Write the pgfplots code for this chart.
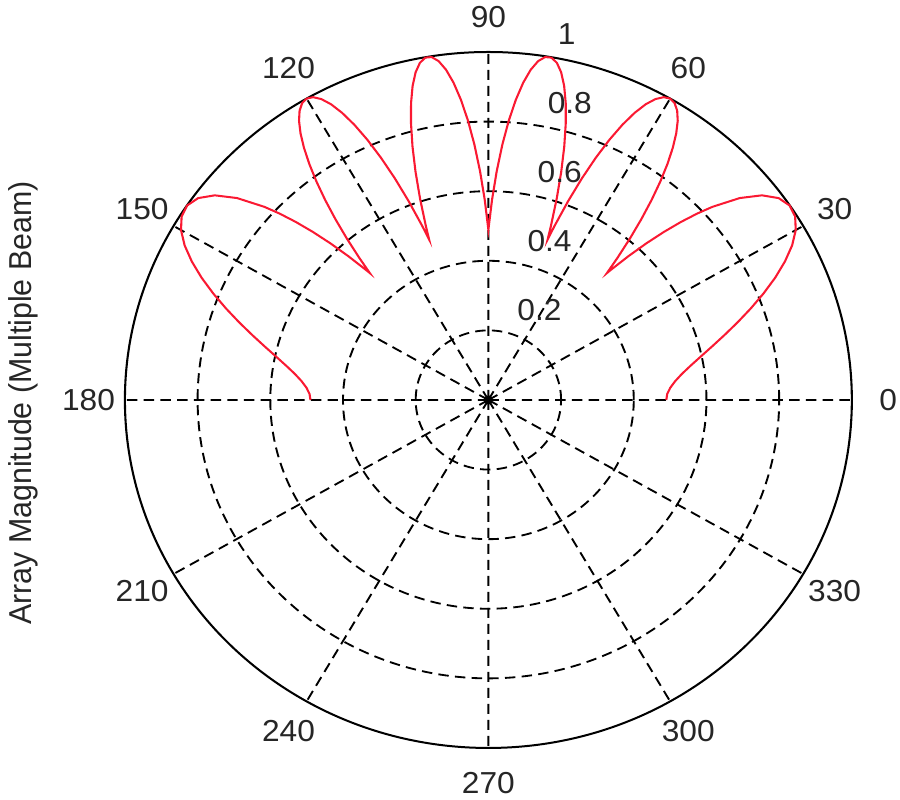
\documentclass[border=0pt]{standalone}
\usepackage{fontspec}
\setmainfont{Liberation Sans}
\usepackage{graphicx}
\usepackage{pgfplots}
\pgfplotsset{compat=1.18}
\usepgfplotslibrary{polar}
\definecolor{beamred}{RGB}{250,25,50}

\begin{document}
\resizebox{270pt}{240pt}{%
\begin{tikzpicture}[lab/.style={font=\fontsize{9.1}{11}\selectfont, text=black!85}]
\begin{polaraxis}[
    scale only axis,
    width=208.8pt, height=208.8pt,
    xmin=0, xmax=360, ymin=0, ymax=1,
    xtick={0,30,...,330},
    ytick={0.2,0.4,0.6,0.8},
    xticklabels={}, yticklabels={},
    major tick length=0pt,
    grid=major,
    major grid style={black, line width=0.55pt, dash pattern=on 3pt off 1.8pt},
    x axis line style={black, line width=0.6pt},
    y axis line style={draw=none},
    clip=false,
]

% multiple beam pattern, (angle in degrees, magnitude)
\addplot[color=beamred, line width=0.6pt, no marks] coordinates {
    (0,0.4895) (2,0.4923) (4,0.5016) (6,0.5167) (8,0.5376) (10,0.5644)
    (12,0.5965) (14,0.6337) (16,0.6753) (18,0.7205) (20,0.7679) (22,0.8162)
    (24,0.8637) (26,0.9078) (28,0.9465) (30,0.9765) (32,0.9952) (34,0.9996)
    (36,0.9870) (38,0.9552) (40,0.9027) (42,0.8295) (43,0.7853) (44,0.7364)
    (45,0.6830) (46,0.6258) (47,0.5651) (48,0.5017) (48.19,0.4895)
    (49,0.5419) (50,0.6063) (51,0.6690) (52,0.7293) (53,0.7860) (54,0.8381)
    (55,0.8845) (56,0.9243) (57,0.9565) (58,0.9802) (59,0.9950) (60,1.0000)
    (61,0.9949) (62,0.9794) (63,0.9539) (64,0.9181) (65,0.8728) (66,0.8184)
    (67,0.7560) (68,0.6868) (69,0.6117) (70,0.5325) (70.53,0.4895)
    (71,0.5280) (72,0.6083) (73,0.6854) (74,0.7573) (75,0.8224) (76,0.8795)
    (77,0.9266) (78,0.9628) (79,0.9871) (80,0.9989) (81,0.9977) (82,0.9833)
    (83,0.9562) (84,0.9168) (85,0.8658) (86,0.8048) (87,0.7350) (88,0.6579)
    (89,0.5754) (90,0.4895)
    (91,0.5754) (92,0.6579) (93,0.7350) (94,0.8048) (95,0.8658) (96,0.9168)
    (97,0.9562) (98,0.9833) (99,0.9977) (100,0.9989) (101,0.9871) (102,0.9628)
    (103,0.9266) (104,0.8795) (105,0.8224) (106,0.7573) (107,0.6854) (108,0.6083)
    (109,0.5280) (109.47,0.4895)
    (110,0.5325) (111,0.6117) (112,0.6868) (113,0.7560) (114,0.8184) (115,0.8728)
    (116,0.9181) (117,0.9539) (118,0.9794) (119,0.9949) (120,1.0000) (121,0.9950)
    (122,0.9802) (123,0.9565) (124,0.9243) (125,0.8845) (126,0.8381) (127,0.7860)
    (128,0.7293) (129,0.6690) (130,0.6063) (131,0.5419) (131.81,0.4895)
    (132,0.5017) (133,0.5651) (134,0.6258) (135,0.6830) (136,0.7364) (137,0.7853)
    (138,0.8295) (140,0.9027) (142,0.9552) (144,0.9870) (146,0.9996) (148,0.9952)
    (150,0.9765) (152,0.9465) (154,0.9078) (156,0.8637) (158,0.8162) (160,0.7679)
    (162,0.7205) (164,0.6753) (166,0.6337) (168,0.5965) (170,0.5644) (172,0.5376)
    (174,0.5167) (176,0.5016) (178,0.4923) (180,0.4895)
};

% angle labels
\node[lab] at (axis cs:0,1.1) {0};
\node[lab] at (axis cs:30,1.1) {30};
\node[lab] at (axis cs:60,1.1) {60};
\node[lab] at (axis cs:90,1.1) {90};
\node[lab] at (axis cs:120,1.1) {120};
\node[lab] at (axis cs:150,1.1) {150};
\node[lab] at (axis cs:180,1.1) {180};
\node[lab] at (axis cs:210,1.1) {210};
\node[lab] at (axis cs:240,1.1) {240};
\node[lab] at (axis cs:270,1.1) {270};
\node[lab] at (axis cs:300,1.1) {300};
\node[lab] at (axis cs:330,1.1) {330};

% radius labels
\node[lab, anchor=base west, inner sep=0pt, xshift=5.1pt, yshift=2.25pt] at (axis cs:82,0.21) {0.2};
\node[lab, anchor=base west, inner sep=0pt, xshift=5.1pt, yshift=2.25pt] at (axis cs:82,0.41) {0.4};
\node[lab, anchor=base west, inner sep=0pt, xshift=5.1pt, yshift=2.25pt] at (axis cs:82,0.61) {0.6};
\node[lab, anchor=base west, inner sep=0pt, xshift=5.1pt, yshift=2.25pt] at (axis cs:82,0.81) {0.8};
\node[lab, anchor=base west, inner sep=0pt, xshift=5.1pt, yshift=2.25pt] at (axis cs:82,1.01) {1};

\coordinate (O) at (axis cs:0,0);
\end{polaraxis}

\node[lab, rotate=90, anchor=base, inner sep=0pt] at ([shift={(-131.1pt,-0.9pt)}]O) {Array Magnitude (Multiple Beam)};

\pgfresetboundingbox
\useasboundingbox ([shift={(-140.28pt,-120pt)}]O) rectangle ([shift={(118.23pt,120pt)}]O);
\end{tikzpicture}%
}
\end{document}
